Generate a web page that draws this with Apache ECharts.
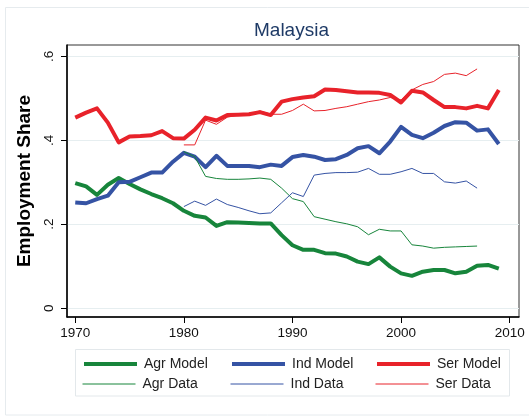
<!DOCTYPE html>
<html>
<head>
<meta charset="utf-8">
<script src="https://cdn.jsdelivr.net/npm/echarts@6/dist/echarts.min.js"></script>
<style>
  html, body { margin: 0; padding: 0; background: #fff; }
  #chart { width: 529px; height: 416px; }
</style>
</head>
<body>
<div id="chart"></div>
<script>
// model years 1970-2009, data years 1980-2007
var modelYears = [1970,1971,1972,1973,1974,1975,1976,1977,1978,1979,
  1980,1981,1982,1983,1984,1985,1986,1987,1988,1989,
  1990,1991,1992,1993,1994,1995,1996,1997,1998,1999,
  2000,2001,2002,2003,2004,2005,2006,2007,2008,2009];
var dataYears = [1980,1981,1982,1983,1984,1985,1986,1987,1988,1989,
  1990,1991,1992,1993,1994,1995,1996,1997,1998,1999,
  2000,2001,2002,2003,2004,2005,2006,2007];

var agrModel = [0.298,0.290,0.270,0.294,0.310,0.296,0.283,0.272,0.262,0.250,
  0.232,0.220,0.216,0.196,0.205,0.204,0.203,0.202,0.202,0.174,
  0.150,0.139,0.139,0.131,0.130,0.123,0.111,0.105,0.121,0.099,
  0.083,0.077,0.087,0.091,0.091,0.083,0.087,0.101,0.103,0.094];
var indModel = [0.252,0.250,0.260,0.268,0.300,0.301,0.312,0.323,0.323,0.349,
  0.370,0.361,0.336,0.363,0.339,0.339,0.339,0.336,0.342,0.339,
  0.360,0.365,0.361,0.353,0.355,0.365,0.381,0.386,0.369,0.397,
  0.432,0.413,0.405,0.418,0.434,0.443,0.442,0.423,0.426,0.391];
var serModel = [0.454,0.466,0.476,0.442,0.395,0.409,0.410,0.412,0.422,0.405,
  0.404,0.425,0.454,0.447,0.460,0.461,0.462,0.467,0.460,0.492,
  0.498,0.502,0.505,0.521,0.520,0.517,0.514,0.514,0.513,0.508,
  0.490,0.518,0.514,0.496,0.479,0.479,0.476,0.482,0.476,0.520];

var agrData = [0.373,0.361,0.314,0.309,0.307,0.307,0.308,0.310,0.307,0.286,
  0.261,0.254,0.218,0.212,0.206,0.201,0.194,0.175,0.188,0.184,
  0.184,0.151,0.148,0.143,0.145,0.146,0.147,0.148];
var indData = [0.242,0.255,0.245,0.260,0.247,0.240,0.232,0.225,0.227,0.251,
  0.275,0.266,0.317,0.321,0.323,0.323,0.324,0.333,0.319,0.319,
  0.325,0.333,0.321,0.321,0.301,0.298,0.303,0.286];
var serData = [0.389,0.389,0.448,0.438,0.455,0.460,0.462,0.470,0.462,0.462,
  0.471,0.486,0.470,0.471,0.476,0.480,0.486,0.492,0.496,0.502,
  0.496,0.520,0.533,0.540,0.557,0.560,0.554,0.570];

var xTicks = [1970, 1980, 1990, 2000, 2010];
var yTicks = [0, 0.2, 0.4, 0.6];

var GREEN = '#17853b', BLUE = '#3553a4', RED = '#e8222a';
var FONT = '"Liberation Sans", Arial, Helvetica, sans-serif';

function pairs(xs, ys) {
  return xs.map(function (x, i) { return [x, ys[i]]; });
}
function yLabel(v) {
  if (v === 0) return '0';
  return String(v).replace(/^0/, '');
}

var chart = echarts.init(document.getElementById('chart'), null, {renderer: 'canvas'});

function mkSeries(name, xs, ys, color, width) {
  return {
    name: name, type: 'line', data: pairs(xs, ys),
    symbol: 'none', showSymbol: false, silent: true, animation: false,
    lineStyle: {color: color, width: width, join: 'round'},
    itemStyle: {color: color}
  };
}

function mkLegend(name, left, top, width) {
  return {
    data: [name],
    left: left, top: top, padding: 0, itemWidth: 53, itemHeight: 14,
    selectedMode: false,
    lineStyle: {width: width},
    itemStyle: {opacity: 0, borderWidth: 0},
    textStyle: {fontFamily: FONT, fontSize: 14, color: '#222', padding: [0, 0, 0, 2]}
  };
}

var option = {
  backgroundColor: '#fff',
  animation: false,
  title: {
    text: 'Malaysia', left: 254, top: 21, padding: 0,
    textStyle: {fontFamily: FONT, fontSize: 19, fontWeight: 'normal', color: '#1e3a66'}
  },
  grid: {left: 67, right: 10, top: 45, bottom: 99, show: true, borderColor: '#333', borderWidth: 1},
  xAxis: {
    type: 'value', min: 1969.24, max: 2010.86,
    axisLine: {show: true, onZero: false, lineStyle: {color: '#000', width: 1.5}},
    axisTick: {show: true, length: 6, customValues: xTicks, lineStyle: {color: '#000'}},
    axisLabel: {customValues: xTicks, margin: 9, formatter: function (v) { return String(v); },
      fontFamily: FONT, fontSize: 13.5, color: '#111'},
    splitLine: {show: false}
  },
  yAxis: {
    type: 'value', min: -0.021, max: 0.627,
    name: 'Employment Share', nameLocation: 'middle', nameRotate: 90, nameGap: 23,
    nameTextStyle: {fontFamily: FONT, fontSize: 19, fontWeight: 'bold', color: '#000'},
    axisLine: {show: true, onZero: false, lineStyle: {color: '#000', width: 1.5}},
    axisTick: {show: true, length: 6, customValues: yTicks, lineStyle: {color: '#000'}},
    axisLabel: {customValues: yTicks, rotate: 90, margin: 11, formatter: yLabel,
      fontFamily: FONT, fontSize: 13.5, color: '#111'},
    splitLine: {show: true, lineStyle: {color: '#e6eef0', width: 1}}
  },
  legend: [
    mkLegend('Agr Model', 82, 357, 4),
    mkLegend('Ind Model', 230, 357, 4),
    mkLegend('Ser Model', 375, 357, 4),
    mkLegend('Agr Data', 82, 377, 1),
    mkLegend('Ind Data', 230, 377, 1),
    mkLegend('Ser Data', 375, 377, 1)
  ],
  graphic: [
    {type: 'rect', silent: true, z: -10, shape: {x: 5.5, y: 7.5, width: 530, height: 407.5},
      style: {fill: null, stroke: '#e6ebee', lineWidth: 1}},
    {type: 'rect', silent: true, z: -10, shape: {x: 75.5, y: 349.5, width: 434, height: 46.5},
      style: {fill: null, stroke: '#e3e8eb', lineWidth: 1}}
  ],
  series: [
    mkSeries('Agr Model', modelYears, agrModel, GREEN, 4),
    mkSeries('Ind Model', modelYears, indModel, BLUE, 4),
    mkSeries('Ser Model', modelYears, serModel, RED, 4),
    mkSeries('Agr Data', dataYears, agrData, GREEN, 1),
    mkSeries('Ind Data', dataYears, indData, BLUE, 1),
    mkSeries('Ser Data', dataYears, serData, RED, 1)
  ]
};

chart.setOption(option);
</script>
</body>
</html>
